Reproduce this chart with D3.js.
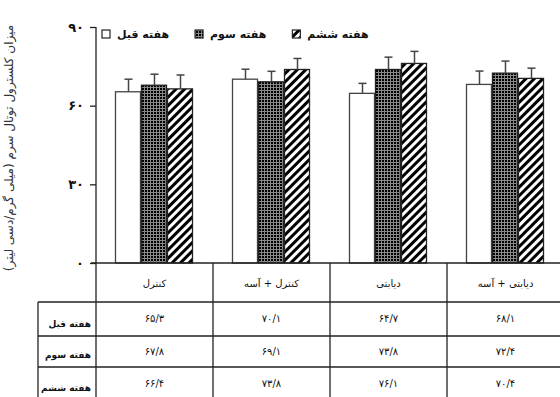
<!DOCTYPE html>
<html>
<head>
<meta charset="utf-8">
<script src="https://cdn.jsdelivr.net/npm/d3@7"></script>
<style>
  body { margin: 0; background: #fff; }
  svg text { font-family: "DejaVu Sans", sans-serif; font-weight: bold; fill: #111; }
</style>
</head>
<body>
<svg id="chart" width="560" height="397"></svg>
<script>
const categories = ["کنترل", "کنترل + آسه", "دیابتی", "دیابتی + آسه"];
const weeks = ["هفته قبل", "هفته سوم", "هفته ششم"];
const beforeWeek = [65.3, 70.1, 64.7, 68.1];
const thirdWeek = [67.8, 69.1, 73.8, 72.4];
const sixthWeek = [66.4, 73.8, 76.1, 70.4];
// error bars (upper whisker only)
const beforeErr = [4.8, 3.8, 3.8, 5.1];
const thirdErr = [4.2, 4.0, 4.7, 4.6];
const sixthErr = [5.3, 4.2, 4.6, 3.9];
const yTicks = [0, 30, 60, 90];
const yTitle = "میزان کلسترول توتال سرم (میلی گرم/دسی لیتر)";

const series = [beforeWeek, thirdWeek, sixthWeek];
const errors = [beforeErr, thirdErr, sixthErr];

// persian digits, "/" as decimal mark
const faDigits = "۰۱۲۳۴۵۶۷۸۹";
function fa(n, dec) {
  let s = dec ? n.toFixed(dec) : String(n);
  return s.replace(".", "/").replace(/[0-9]/g, d => faDigits[+d]);
}

const svg = d3.select("#chart");
const axisX = 96, baseY = 263, topY = 27;

const y = d3.scaleLinear().domain([0, 90]).range([baseY, topY]);
const x = d3.scaleBand().domain(categories).range([axisX, axisX + 117 * 4]);
const xs = d3.scaleBand().domain(weeks).range([19.5, 97.5]);

// patterns
const defs = svg.append("defs");
const grid = defs.append("pattern").attr("id", "grid")
  .attr("width", 3).attr("height", 3).attr("patternUnits", "userSpaceOnUse");
grid.append("rect").attr("width", 3).attr("height", 3).attr("fill", "#000");
grid.append("path").attr("d", "M0.5,0V3M0,0.5H3").attr("stroke", "#8a8a8a").attr("stroke-width", 1);

const hatch = defs.append("pattern").attr("id", "hatch")
  .attr("width", 6).attr("height", 6).attr("patternUnits", "userSpaceOnUse")
  .attr("patternTransform", "rotate(45)");
hatch.append("rect").attr("width", 6).attr("height", 6).attr("fill", "#fff");
hatch.append("rect").attr("width", 3).attr("height", 6).attr("fill", "#000");

const fills = ["#fff", "url(#grid)", "url(#hatch)"];
const strokes = ["#444", "#222", "#222"];

// bars
const bars = [];
categories.forEach((c, i) => {
  weeks.forEach((w, j) => {
    bars.push({ cat: c, week: w, j: j, value: series[j][i], err: errors[j][i] });
  });
});

svg.selectAll(".bar")
  .data(bars)
  .enter()
  .append("rect")
  .attr("class", "bar")
  .attr("x", d => x(d.cat) + xs(d.week))
  .attr("y", d => y(d.value))
  .attr("width", xs.bandwidth() - 1)
  .attr("height", d => baseY - y(d.value))
  .attr("fill", d => fills[d.j])
  .attr("stroke", d => strokes[d.j])
  .attr("stroke-width", 1.3);

// error whiskers
const eb = svg.selectAll(".err").data(bars).enter().append("g").attr("class", "err")
  .attr("stroke", "#444").attr("stroke-width", 1.5);
eb.append("line")
  .attr("x1", d => x(d.cat) + xs(d.week) + xs.bandwidth() / 2)
  .attr("x2", d => x(d.cat) + xs(d.week) + xs.bandwidth() / 2)
  .attr("y1", d => y(d.value))
  .attr("y2", d => y(d.value + d.err));
eb.append("line")
  .attr("x1", d => x(d.cat) + xs(d.week) + xs.bandwidth() / 2 - 4)
  .attr("x2", d => x(d.cat) + xs(d.week) + xs.bandwidth() / 2 + 4)
  .attr("y1", d => y(d.value + d.err))
  .attr("y2", d => y(d.value + d.err));

// y axis
const yAxis = svg.append("g")
  .attr("transform", `translate(${axisX},0)`)
  .call(d3.axisLeft(y).tickValues(yTicks).tickSize(6).tickSizeOuter(0).tickPadding(6).tickFormat(d => fa(d)));
yAxis.select(".domain").remove();
yAxis.selectAll("line").attr("stroke", "#222").attr("stroke-width", 1.3);
yAxis.selectAll("text").style("font-size", "13px").style("font-family", "DejaVu Sans").style("font-weight", "bold");

// table lines
const rowTops = [302, 336, 367, 400];
const lines = svg.append("g").attr("stroke", "#222").attr("stroke-width", 1.3);
lines.append("line").attr("x1", axisX).attr("x2", axisX).attr("y1", topY).attr("y2", 397);
lines.append("line").attr("x1", axisX - 5).attr("x2", 560).attr("y1", baseY).attr("y2", baseY);
categories.slice(1).forEach(c => {
  lines.append("line").attr("x1", x(c)).attr("x2", x(c)).attr("y1", baseY).attr("y2", 397);
});
rowTops.slice(0, 3).forEach(t => {
  lines.append("line").attr("x1", 38).attr("x2", 560).attr("y1", t).attr("y2", t);
});
lines.append("line").attr("x1", 38).attr("x2", 38).attr("y1", rowTops[0]).attr("y2", 397);

// category labels
svg.selectAll(".cat")
  .data(categories)
  .enter()
  .append("text")
  .attr("class", "cat")
  .attr("x", d => x(d) + x.bandwidth() / 2)
  .attr("y", (baseY + rowTops[0]) / 2 + 4)
  .attr("text-anchor", "middle")
  .attr("direction", "rtl")
  .style("font-size", "10px")
  .style("font-weight", "normal")
  .text(d => d);

// table rows
weeks.forEach((w, j) => {
  svg.append("text")
    .attr("x", 91)
    .attr("y", rowTops[j + 1] - 9)
    .attr("text-anchor", "start")
    .attr("direction", "rtl")
    .style("font-size", "9px")
    .text(w);
  categories.forEach((c, i) => {
    svg.append("text")
      .attr("x", x(c) + x.bandwidth() / 2)
      .attr("y", (rowTops[j] + rowTops[j + 1]) / 2 + 3)
      .attr("text-anchor", "middle")
      .style("font-size", "10px")
      .style("font-weight", "normal")
      .text(fa(series[j][i], 1));
  });
});

// legend
const legend = svg.append("g").attr("transform", "translate(102,30)");
let lx = 0;
weeks.forEach((w, j) => {
  legend.append("rect")
    .attr("x", lx).attr("y", 0).attr("width", 8).attr("height", 8)
    .attr("fill", fills[j]).attr("stroke", "#222").attr("stroke-width", 1.2);
  const t = legend.append("text")
    .attr("x", lx + 15).attr("y", 8)
    .style("font-size", "11px")
    .text(w);
  lx += 15 + t.node().getComputedTextLength() + 26;
});

// y title
svg.append("text")
  .attr("transform", "translate(13,148) rotate(-90)")
  .attr("text-anchor", "middle")
  .attr("direction", "rtl")
  .style("font-size", "12px")
  .style("font-weight", "normal")
  .style("fill", "#333")
  .text(yTitle);
</script>
</body>
</html>
